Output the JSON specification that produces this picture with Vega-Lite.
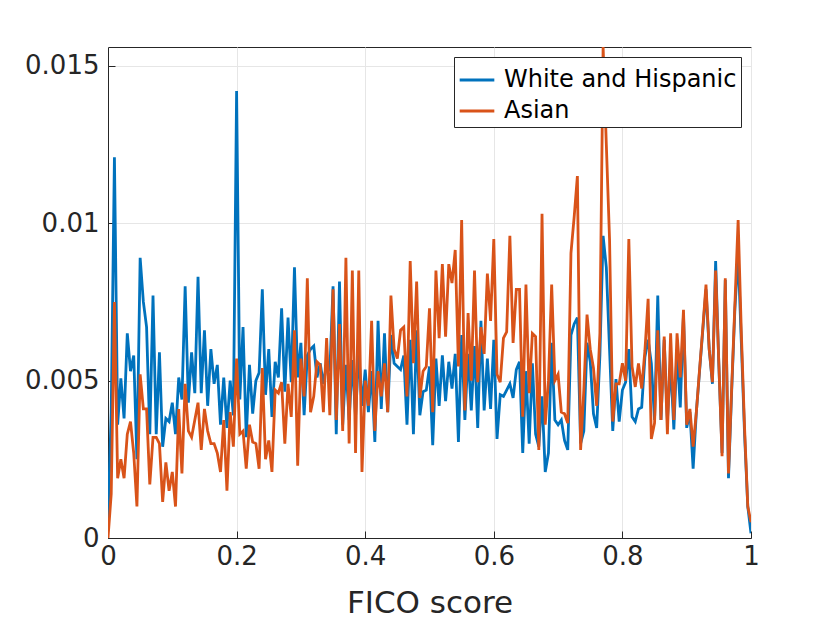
{
  "$schema": "https://vega.github.io/schema/vega-lite/v6.json",
  "width": 643,
  "height": 491,
  "autosize": "none",
  "padding": {"left": 108, "top": 47, "right": 79, "bottom": 85},
  "background": "white",
  "config": {
    "font": "DejaVu Sans",
    "view": {"stroke": "#262626", "strokeWidth": 1},
    "axis": {
      "labelFont": "DejaVu Sans",
      "labelFontSize": 26,
      "labelColor": "#262626",
      "labelFlush": false,
      "titleFont": "DejaVu Sans",
      "titleFontSize": 31,
      "titleFontWeight": "normal",
      "titleColor": "#262626",
      "domainColor": "#262626",
      "tickColor": "#262626",
      "tickSize": -7,
      "gridColor": "#e6e6e6",
      "grid": true
    },
    "legend": {
      "labelFont": "DejaVu Sans",
      "labelFontSize": 24,
      "labelColor": "#000000",
      "labelLimit": 400,
      "strokeColor": "#262626",
      "fillColor": "white",
      "padding": 4,
      "offset": 10
    }
  },
  "data": {
    "values": [
      {"score": 0, "white": 0.0006, "asian": 0},
      {"score": 0.005, "white": 0.004, "asian": 0.0014},
      {"score": 0.01, "white": 0.0121, "asian": 0.0075},
      {"score": 0.015, "white": 0.0036, "asian": 0.0019},
      {"score": 0.02, "white": 0.00507, "asian": 0.0025},
      {"score": 0.025, "white": 0.0038, "asian": 0.0019},
      {"score": 0.03, "white": 0.0065, "asian": 0.0033},
      {"score": 0.035, "white": 0.0053, "asian": 0.0037},
      {"score": 0.04, "white": 0.0058, "asian": 0.0027},
      {"score": 0.045, "white": 0.0025, "asian": 0.001},
      {"score": 0.05, "white": 0.0089, "asian": 0.0052},
      {"score": 0.055, "white": 0.0075, "asian": 0.0041},
      {"score": 0.06, "white": 0.0067, "asian": 0.0041},
      {"score": 0.065, "white": 0.0033, "asian": 0.0017},
      {"score": 0.07, "white": 0.0077, "asian": 0.0032},
      {"score": 0.075, "white": 0.0033, "asian": 0.0032},
      {"score": 0.08, "white": 0.0059, "asian": 0.003},
      {"score": 0.085, "white": 0.0029, "asian": 0.00115},
      {"score": 0.09, "white": 0.0038, "asian": 0.0024},
      {"score": 0.095, "white": 0.0037, "asian": 0.0015},
      {"score": 0.1, "white": 0.0043, "asian": 0.0021},
      {"score": 0.105, "white": 0.0033, "asian": 0.001},
      {"score": 0.11, "white": 0.0051, "asian": 0.0041},
      {"score": 0.115, "white": 0.0044, "asian": 0.00205},
      {"score": 0.12, "white": 0.008, "asian": 0.0049},
      {"score": 0.125, "white": 0.0043, "asian": 0.0034},
      {"score": 0.13, "white": 0.0059, "asian": 0.0032},
      {"score": 0.135, "white": 0.0046, "asian": 0.00375},
      {"score": 0.14, "white": 0.0083, "asian": 0.0043},
      {"score": 0.145, "white": 0.0046, "asian": 0.0028},
      {"score": 0.15, "white": 0.0066, "asian": 0.0041},
      {"score": 0.155, "white": 0.0042, "asian": 0.0034},
      {"score": 0.16, "white": 0.006, "asian": 0.003},
      {"score": 0.165, "white": 0.0049, "asian": 0.003},
      {"score": 0.17, "white": 0.0055, "asian": 0.0027},
      {"score": 0.175, "white": 0.0036, "asian": 0.0021},
      {"score": 0.18, "white": 0.0051, "asian": 0.00375},
      {"score": 0.185, "white": 0.0035, "asian": 0.0015},
      {"score": 0.19, "white": 0.005, "asian": 0.004},
      {"score": 0.195, "white": 0.0039, "asian": 0.0029},
      {"score": 0.2, "white": 0.0142, "asian": 0.0057},
      {"score": 0.205, "white": 0.0044, "asian": 0.0033},
      {"score": 0.21, "white": 0.0067, "asian": 0.0034},
      {"score": 0.215, "white": 0.0032, "asian": 0.0022},
      {"score": 0.22, "white": 0.0055, "asian": 0.0036},
      {"score": 0.225, "white": 0.00395, "asian": 0.00305},
      {"score": 0.23, "white": 0.005, "asian": 0.003},
      {"score": 0.235, "white": 0.00525, "asian": 0.0022},
      {"score": 0.24, "white": 0.0079, "asian": 0.0054},
      {"score": 0.245, "white": 0.00455, "asian": 0.0025},
      {"score": 0.25, "white": 0.006, "asian": 0.0031},
      {"score": 0.255, "white": 0.00385, "asian": 0.0021},
      {"score": 0.26, "white": 0.0056, "asian": 0.0047},
      {"score": 0.265, "white": 0.0051, "asian": 0.0046},
      {"score": 0.27, "white": 0.0073, "asian": 0.00495},
      {"score": 0.275, "white": 0.00465, "asian": 0.003},
      {"score": 0.28, "white": 0.007, "asian": 0.0049},
      {"score": 0.285, "white": 0.00495, "asian": 0.00385},
      {"score": 0.29, "white": 0.0086, "asian": 0.0066},
      {"score": 0.295, "white": 0.0051, "asian": 0.0023},
      {"score": 0.3, "white": 0.0062, "asian": 0.0057},
      {"score": 0.305, "white": 0.0039, "asian": 0.0045},
      {"score": 0.31, "white": 0.0058, "asian": 0.00825},
      {"score": 0.315, "white": 0.006, "asian": 0.004},
      {"score": 0.32, "white": 0.0061, "asian": 0.0045},
      {"score": 0.325, "white": 0.0051, "asian": 0.0056},
      {"score": 0.33, "white": 0.00555, "asian": 0.0055},
      {"score": 0.335, "white": 0.0049, "asian": 0.004},
      {"score": 0.34, "white": 0.00555, "asian": 0.00635},
      {"score": 0.345, "white": 0.0053, "asian": 0.0039},
      {"score": 0.35, "white": 0.008, "asian": 0.0079},
      {"score": 0.355, "white": 0.0033, "asian": 0.00375},
      {"score": 0.36, "white": 0.00815, "asian": 0.0068},
      {"score": 0.365, "white": 0.0036, "asian": 0.0034},
      {"score": 0.37, "white": 0.0055, "asian": 0.0089},
      {"score": 0.375, "white": 0.00375, "asian": 0.003},
      {"score": 0.38, "white": 0.00565, "asian": 0.0085},
      {"score": 0.385, "white": 0.00385, "asian": 0.0027},
      {"score": 0.39, "white": 0.0059, "asian": 0.0085},
      {"score": 0.395, "white": 0.0042, "asian": 0.0021},
      {"score": 0.4, "white": 0.00535, "asian": 0.005},
      {"score": 0.405, "white": 0.004, "asian": 0.0042},
      {"score": 0.41, "white": 0.0053, "asian": 0.0069},
      {"score": 0.415, "white": 0.00305, "asian": 0.0034},
      {"score": 0.42, "white": 0.0069, "asian": 0.0053},
      {"score": 0.425, "white": 0.0041, "asian": 0.0045},
      {"score": 0.43, "white": 0.0065, "asian": 0.00555},
      {"score": 0.435, "white": 0.004, "asian": 0.004},
      {"score": 0.44, "white": 0.00645, "asian": 0.0077},
      {"score": 0.445, "white": 0.00555, "asian": 0.006},
      {"score": 0.45, "white": 0.00545, "asian": 0.0057},
      {"score": 0.455, "white": 0.00535, "asian": 0.0066},
      {"score": 0.46, "white": 0.0058, "asian": 0.0067},
      {"score": 0.465, "white": 0.0036, "asian": 0.0045},
      {"score": 0.47, "white": 0.0063, "asian": 0.0088},
      {"score": 0.475, "white": 0.0033, "asian": 0.00555},
      {"score": 0.48, "white": 0.0066, "asian": 0.00815},
      {"score": 0.485, "white": 0.0039, "asian": 0.00445},
      {"score": 0.49, "white": 0.00465, "asian": 0.0053},
      {"score": 0.495, "white": 0.0047, "asian": 0.00545},
      {"score": 0.5, "white": 0.00545, "asian": 0.0073},
      {"score": 0.505, "white": 0.00295, "asian": 0.004},
      {"score": 0.51, "white": 0.0057, "asian": 0.0085},
      {"score": 0.515, "white": 0.0042, "asian": 0.00635},
      {"score": 0.52, "white": 0.0058, "asian": 0.0087},
      {"score": 0.525, "white": 0.00435, "asian": 0.0064},
      {"score": 0.53, "white": 0.0056, "asian": 0.0087},
      {"score": 0.535, "white": 0.00475, "asian": 0.0081},
      {"score": 0.54, "white": 0.00585, "asian": 0.00915},
      {"score": 0.545, "white": 0.00305, "asian": 0.00545},
      {"score": 0.55, "white": 0.00645, "asian": 0.0101},
      {"score": 0.555, "white": 0.00375, "asian": 0.00405},
      {"score": 0.56, "white": 0.00585, "asian": 0.00715},
      {"score": 0.565, "white": 0.00405, "asian": 0.005},
      {"score": 0.57, "white": 0.0061, "asian": 0.0085},
      {"score": 0.575, "white": 0.0035, "asian": 0.00495},
      {"score": 0.58, "white": 0.0069, "asian": 0.0067},
      {"score": 0.585, "white": 0.00405, "asian": 0.00585},
      {"score": 0.59, "white": 0.0057, "asian": 0.0084},
      {"score": 0.595, "white": 0.0041, "asian": 0.0069},
      {"score": 0.6, "white": 0.0063, "asian": 0.0095},
      {"score": 0.605, "white": 0.00315, "asian": 0.0052},
      {"score": 0.61, "white": 0.00455, "asian": 0.00495},
      {"score": 0.615, "white": 0.0045, "asian": 0.00635},
      {"score": 0.62, "white": 0.0047, "asian": 0.00655},
      {"score": 0.625, "white": 0.0049, "asian": 0.0096},
      {"score": 0.63, "white": 0.00445, "asian": 0.0062},
      {"score": 0.635, "white": 0.00535, "asian": 0.0079},
      {"score": 0.64, "white": 0.0056, "asian": 0.0079},
      {"score": 0.645, "white": 0.0027, "asian": 0.00385},
      {"score": 0.65, "white": 0.0053, "asian": 0.00805},
      {"score": 0.655, "white": 0.003, "asian": 0.0046},
      {"score": 0.66, "white": 0.00555, "asian": 0.0065},
      {"score": 0.665, "white": 0.0033, "asian": 0.0064},
      {"score": 0.67, "white": 0.0029, "asian": 0.0028},
      {"score": 0.675, "white": 0.0045, "asian": 0.0103},
      {"score": 0.68, "white": 0.0021, "asian": 0.0036},
      {"score": 0.685, "white": 0.0027, "asian": 0.005},
      {"score": 0.69, "white": 0.0062, "asian": 0.00805},
      {"score": 0.695, "white": 0.00375, "asian": 0.005},
      {"score": 0.7, "white": 0.0036, "asian": 0.0052},
      {"score": 0.705, "white": 0.00375, "asian": 0.004},
      {"score": 0.71, "white": 0.0031, "asian": 0.00395},
      {"score": 0.715, "white": 0.0028, "asian": 0.00365},
      {"score": 0.72, "white": 0.00645, "asian": 0.00905},
      {"score": 0.725, "white": 0.0068, "asian": 0.0102},
      {"score": 0.73, "white": 0.007, "asian": 0.0115},
      {"score": 0.735, "white": 0.003, "asian": 0.0028},
      {"score": 0.74, "white": 0.0034, "asian": 0.0047},
      {"score": 0.745, "white": 0.0062, "asian": 0.0071},
      {"score": 0.75, "white": 0.0056, "asian": 0.006},
      {"score": 0.755, "white": 0.00395, "asian": 0.0054},
      {"score": 0.76, "white": 0.0035, "asian": 0.0042},
      {"score": 0.765, "white": 0.0058, "asian": 0.0065},
      {"score": 0.77, "white": 0.0096, "asian": 0.0156},
      {"score": 0.775, "white": 0.0086, "asian": 0.0125},
      {"score": 0.78, "white": 0.006, "asian": 0.0095},
      {"score": 0.785, "white": 0.0034, "asian": 0.0037},
      {"score": 0.79, "white": 0.00505, "asian": 0.0049},
      {"score": 0.795, "white": 0.0037, "asian": 0.0049},
      {"score": 0.8, "white": 0.0047, "asian": 0.00555},
      {"score": 0.805, "white": 0.00495, "asian": 0.005},
      {"score": 0.81, "white": 0.006, "asian": 0.0095},
      {"score": 0.815, "white": 0.00385, "asian": 0.00545},
      {"score": 0.82, "white": 0.0037, "asian": 0.0048},
      {"score": 0.825, "white": 0.0041, "asian": 0.00555},
      {"score": 0.83, "white": 0.00415, "asian": 0.00475},
      {"score": 0.835, "white": 0.00575, "asian": 0.00595},
      {"score": 0.84, "white": 0.0063, "asian": 0.0076},
      {"score": 0.845, "white": 0.00555, "asian": 0.00315},
      {"score": 0.85, "white": 0.00375, "asian": 0.00365},
      {"score": 0.855, "white": 0.0077, "asian": 0.0066},
      {"score": 0.86, "white": 0.00375, "asian": 0.00375},
      {"score": 0.865, "white": 0.0063, "asian": 0.0064},
      {"score": 0.87, "white": 0.00375, "asian": 0.0033},
      {"score": 0.875, "white": 0.00555, "asian": 0.0065},
      {"score": 0.88, "white": 0.00345, "asian": 0.00375},
      {"score": 0.885, "white": 0.006, "asian": 0.0065},
      {"score": 0.89, "white": 0.00415, "asian": 0.0051},
      {"score": 0.895, "white": 0.0071, "asian": 0.00725},
      {"score": 0.9, "white": 0.0035, "asian": 0.0036},
      {"score": 0.905, "white": 0.004, "asian": 0.0041},
      {"score": 0.91, "white": 0.0022, "asian": 0.0029},
      {"score": 0.915, "white": 0.004, "asian": 0.004},
      {"score": 0.92, "white": 0.0053, "asian": 0.00535},
      {"score": 0.925, "white": 0.0066, "asian": 0.00665},
      {"score": 0.93, "white": 0.0079, "asian": 0.00805},
      {"score": 0.935, "white": 0.006, "asian": 0.006},
      {"score": 0.94, "white": 0.0049, "asian": 0.00495},
      {"score": 0.945, "white": 0.0088, "asian": 0.0085},
      {"score": 0.95, "white": 0.0055, "asian": 0.00555},
      {"score": 0.955, "white": 0.0027, "asian": 0.0026},
      {"score": 0.96, "white": 0.0082, "asian": 0.00825},
      {"score": 0.965, "white": 0.0019, "asian": 0.00205},
      {"score": 0.97, "white": 0.0047, "asian": 0.0048},
      {"score": 0.975, "white": 0.0073, "asian": 0.00745},
      {"score": 0.98, "white": 0.009, "asian": 0.0101},
      {"score": 0.985, "white": 0.0062, "asian": 0.0065},
      {"score": 0.99, "white": 0.0033, "asian": 0.0035},
      {"score": 0.995, "white": 0.001, "asian": 0.001},
      {"score": 1, "white": 0.00015, "asian": 0.0005}
    ]
  },
  "transform": [
    {"fold": ["white", "asian"], "as": ["group", "share"]}
  ],
  "mark": {"type": "line", "strokeWidth": 2.8, "clip": true},
  "encoding": {
    "x": {
      "field": "score",
      "type": "quantitative",
      "title": "FICO score",
      "scale": {"domain": [0, 1], "nice": false},
      "axis": {
        "values": [0, 0.2, 0.4, 0.6, 0.8, 1],
        "format": "~g",
        "labelPadding": 12,
        "titlePadding": 19
      }
    },
    "y": {
      "field": "share",
      "type": "quantitative",
      "title": null,
      "scale": {"domain": [0, 0.0156], "nice": false, "zero": true},
      "axis": {
        "values": [0, 0.005, 0.01, 0.015],
        "format": "~g",
        "labelPadding": 16
      }
    },
    "color": {
      "field": "group",
      "type": "nominal",
      "sort": ["white", "asian"],
      "scale": {"domain": ["white", "asian"], "range": ["#0072BD", "#D95319"]},
      "legend": {
        "title": null,
        "orient": "top-right",
        "symbolType": "stroke",
        "symbolSize": 1200,
        "symbolStrokeWidth": 2.8,
        "labelOffset": 8,
        "rowPadding": 0,
        "labelExpr": "datum.label == 'white' ? 'White and Hispanic' : 'Asian'"
      }
    }
  }
}
